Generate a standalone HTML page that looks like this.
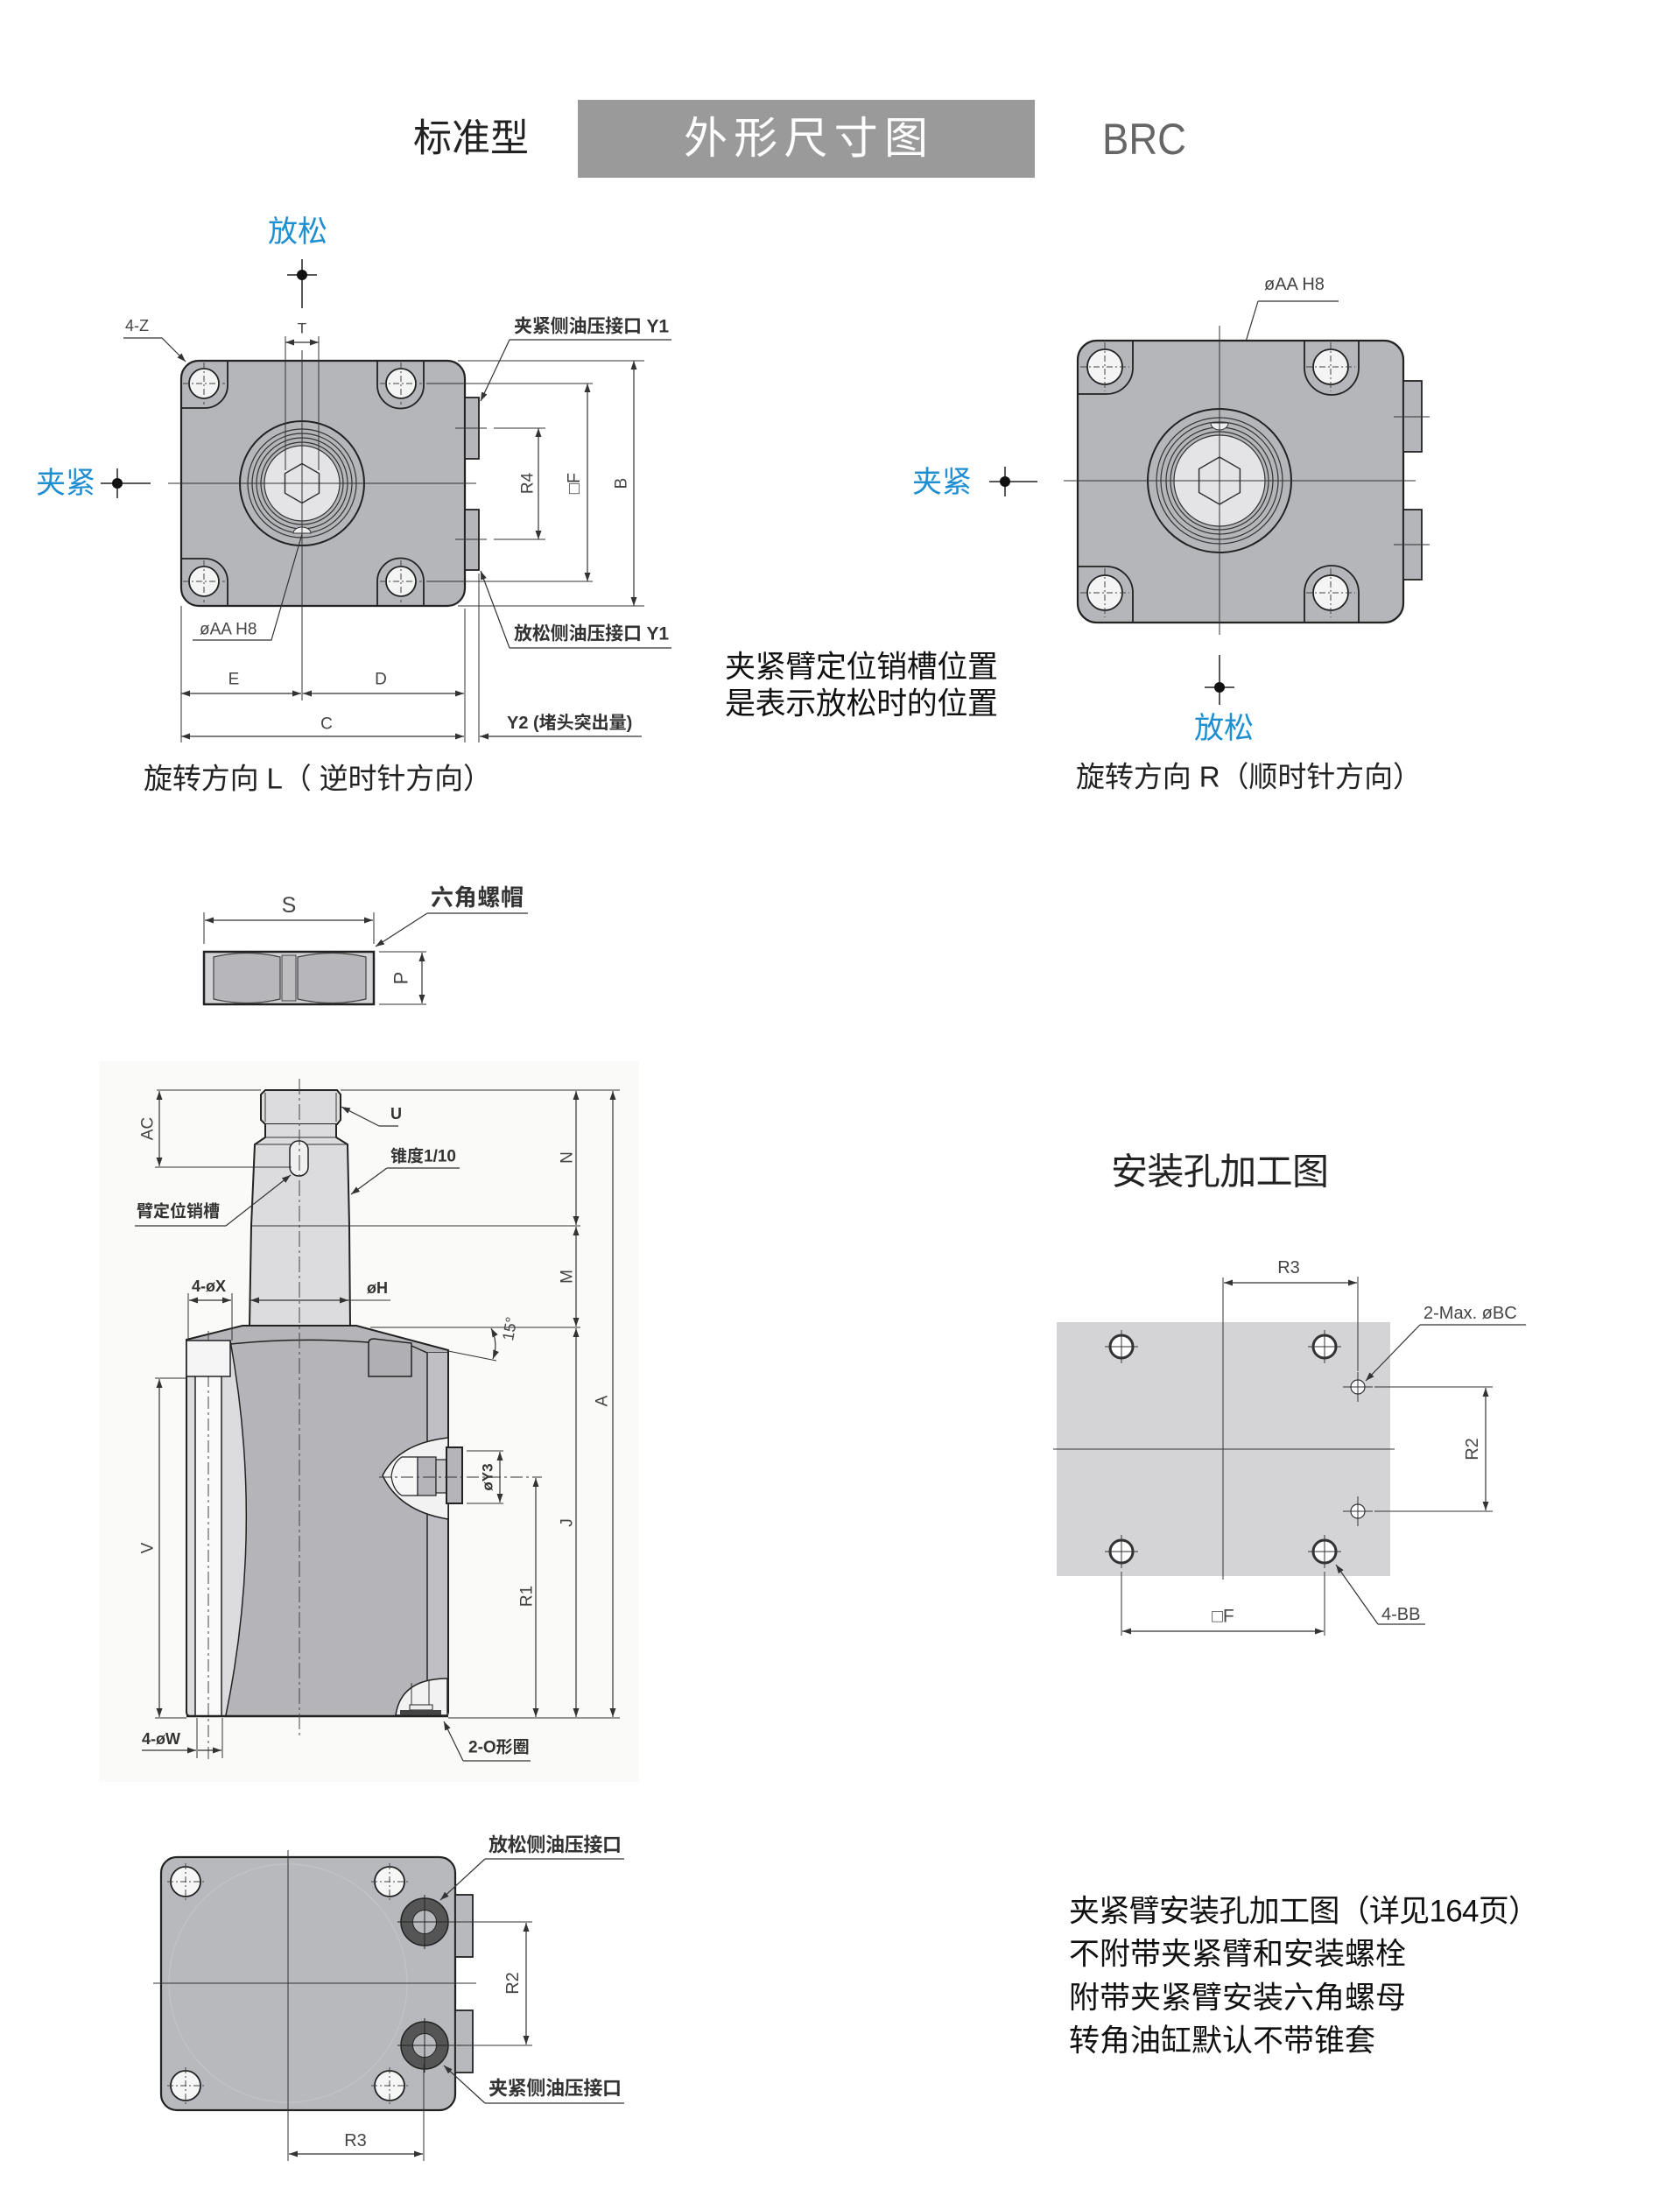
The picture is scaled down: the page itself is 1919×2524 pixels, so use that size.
<!DOCTYPE html>
<html><head><meta charset="utf-8">
<style>
html,body{margin:0;padding:0;background:#fff;}
svg{display:block;}
text{font-family:"Liberation Sans","Noto Sans CJK SC",sans-serif;dominant-baseline:central;}
.lb{font-weight:bold;fill:#333;}
.dm{fill:#444;}
.blue{fill:#1f8fd2;}
.d{stroke:#333;stroke-width:1.2;fill:none;}
.c{stroke:#333;stroke-width:1;fill:none;}
.o{stroke:#222;stroke-width:2.2;}
.dash{stroke:#444;stroke-width:1;stroke-dasharray:7 3 2 3;fill:none;}
</style></head>
<body>
<svg width="1919" height="2524" viewBox="0 0 1919 2524" xmlns="http://www.w3.org/2000/svg">
<defs>
<marker id="a" viewBox="0 0 10 7" refX="10" refY="3.5" markerUnits="userSpaceOnUse" markerWidth="10" markerHeight="7" orient="auto-start-reverse">
<path d="M0,0 L10,3.5 L0,7 z" fill="#333"/>
</marker>
</defs>
<rect x="0" y="0" width="1919" height="2524" fill="#fff"/>

<!-- HEADER -->
<text x="472" y="158" font-size="44" fill="#222" textLength="132">标准型</text>
<rect x="660" y="114" width="522" height="89" fill="#9a9a9a"/>
<text x="781" y="158" font-size="50" fill="#fff" textLength="279">外形尺寸图</text>
<text x="1259" y="159" font-size="50" fill="#666" textLength="96" lengthAdjust="spacingAndGlyphs">BRC</text>

<!-- ========== TOP-LEFT VIEW ========== -->
<text x="340" y="265" text-anchor="middle" class="blue" font-size="34">放松</text>
<line x1="345" y1="296" x2="345" y2="352" stroke="#222" stroke-width="1.5"/>
<line x1="328" y1="314" x2="362" y2="314" stroke="#222" stroke-width="1.5"/>
<circle cx="345" cy="314" r="6" fill="#111"/>

<text x="75" y="552" text-anchor="middle" class="blue" font-size="34">夹紧</text>
<line x1="115" y1="552" x2="172" y2="552" stroke="#222" stroke-width="1.5"/>
<line x1="134" y1="535" x2="134" y2="569" stroke="#222" stroke-width="1.5"/>
<circle cx="134" cy="552" r="6" fill="#111"/>

<text x="143" y="372" class="dm" font-size="18">4-Z</text>
<polyline points="141,386 185,386 212,413" class="d" marker-end="url(#a)"/>

<!-- body -->
<rect x="207" y="412" width="324" height="280" rx="20" fill="#b5b6ba" class="o"/>
<path d="M260 412 V440 A26 26 0 0 1 234 466 H207" fill="none" stroke="#222" stroke-width="1.8"/>
<path d="M431 412 V440 A26.5 26.5 0 0 0 484 440 V412" fill="none" stroke="#222" stroke-width="1.8"/>
<path d="M207 638 H234 A26 26 0 0 1 260 664 V692" fill="none" stroke="#222" stroke-width="1.8"/>
<path d="M431 692 V664 A26.5 26.5 0 0 1 484 664 V692" fill="none" stroke="#222" stroke-width="1.8"/>
<g fill="#f4f4f4" stroke="#222" stroke-width="1.8">
<circle cx="233" cy="438" r="17"/><circle cx="458" cy="438" r="17"/>
<circle cx="233" cy="664" r="17"/><circle cx="458" cy="664" r="17"/>
</g>
<g class="dash">
<line x1="209" y1="438" x2="257" y2="438"/><line x1="233" y1="414" x2="233" y2="462"/>
<line x1="434" y1="438" x2="482" y2="438"/><line x1="458" y1="414" x2="458" y2="462"/>
<line x1="209" y1="664" x2="257" y2="664"/><line x1="233" y1="640" x2="233" y2="688"/>
<line x1="434" y1="664" x2="482" y2="664"/><line x1="458" y1="640" x2="458" y2="688"/>
</g>
<!-- ports -->
<rect x="531" y="454" width="16" height="70" fill="#b5b6ba" stroke="#222" stroke-width="1.8"/>
<rect x="531" y="582" width="16" height="69" fill="#b5b6ba" stroke="#222" stroke-width="1.8"/>
<!-- central boss -->
<circle cx="345" cy="552" r="71" fill="#b5b6ba" stroke="#222" stroke-width="2"/>
<g fill="none" stroke="#333" stroke-width="1.2">
<circle cx="345" cy="552" r="62"/><circle cx="345" cy="552" r="57"/><circle cx="345" cy="552" r="52"/><circle cx="345" cy="552" r="47"/>
</g>
<circle cx="345" cy="552" r="43" fill="#e4e4e6" stroke="#333" stroke-width="1.2"/>
<polygon points="345,529.5 364.5,540.75 364.5,563.25 345,574.5 325.5,563.25 325.5,540.75" fill="none" stroke="#333" stroke-width="1.5"/>
<path d="M335 609 A10 7 0 0 1 355 609 Z" fill="#eee" stroke="#333" stroke-width="1"/>
<!-- centre lines -->
<line x1="345" y1="400" x2="345" y2="800" class="c"/>
<line x1="192" y1="552" x2="544" y2="552" class="c"/>
<!-- T -->
<line x1="326" y1="384" x2="326" y2="537" class="c"/>
<line x1="364" y1="384" x2="364" y2="537" class="c"/>
<line x1="326" y1="391" x2="364" y2="391" class="d" marker-start="url(#a)" marker-end="url(#a)"/>
<text x="345" y="375" text-anchor="middle" class="dm" font-size="17">T</text>
<!-- port lines & R4 -->
<line x1="520" y1="489" x2="556" y2="489" class="c"/><line x1="564" y1="489" x2="623" y2="489" class="c"/>
<line x1="520" y1="616" x2="556" y2="616" class="c"/><line x1="564" y1="616" x2="623" y2="616" class="c"/>
<line x1="615" y1="489" x2="615" y2="616" class="d" marker-start="url(#a)" marker-end="url(#a)"/>
<text x="603" y="552" text-anchor="middle" class="dm" font-size="19" transform="rotate(-90 603 552)">R4</text>
<!-- □F -->
<line x1="487" y1="438" x2="677" y2="438" class="c"/><line x1="487" y1="664" x2="677" y2="664" class="c"/>
<line x1="671" y1="438" x2="671" y2="664" class="d" marker-start="url(#a)" marker-end="url(#a)"/>
<text x="656" y="552" text-anchor="middle" class="dm" font-size="20" transform="rotate(-90 656 552)">□F</text>
<!-- B -->
<line x1="523" y1="412" x2="736" y2="412" class="c"/><line x1="523" y1="692" x2="736" y2="692" class="c"/>
<line x1="724" y1="412" x2="724" y2="692" class="d" marker-start="url(#a)" marker-end="url(#a)"/>
<text x="710" y="552" text-anchor="middle" class="dm" font-size="19" transform="rotate(-90 710 552)">B</text>
<!-- Y1 labels -->
<text x="587" y="373" class="lb" font-size="21" textLength="177">夹紧侧油压接口 Y1</text>
<line x1="582" y1="388" x2="767" y2="388" class="d"/>
<line x1="582" y1="388" x2="549" y2="458" class="d" marker-end="url(#a)"/>
<text x="587" y="724" class="lb" font-size="21" textLength="177">放松侧油压接口 Y1</text>
<line x1="582" y1="740" x2="767" y2="740" class="d"/>
<line x1="582" y1="740" x2="549" y2="652" class="d" marker-end="url(#a)"/>
<!-- øAA H8 -->
<text x="228" y="719" class="dm" font-size="19">øAA H8</text>
<polyline points="220,731 310,731 345,610" class="d"/>
<!-- E D C Y2 -->
<line x1="207" y1="692" x2="207" y2="848" class="c"/>
<line x1="531" y1="695" x2="531" y2="848" class="c"/>
<line x1="547" y1="655" x2="547" y2="848" class="c"/>
<line x1="207" y1="792" x2="344" y2="792" class="d" marker-start="url(#a)" marker-end="url(#a)"/>
<line x1="346" y1="792" x2="530" y2="792" class="d" marker-start="url(#a)" marker-end="url(#a)"/>
<text x="267" y="776" text-anchor="middle" class="dm" font-size="19">E</text>
<text x="435" y="776" text-anchor="middle" class="dm" font-size="19">D</text>
<line x1="207" y1="841" x2="530" y2="841" class="d" marker-start="url(#a)" marker-end="url(#a)"/>
<text x="373" y="827" text-anchor="middle" class="dm" font-size="19">C</text>
<line x1="548" y1="841" x2="733" y2="841" class="d" marker-start="url(#a)"/>
<text x="579" y="826" class="lb" font-size="20">Y2 (堵头突出量)</text>
<text x="164" y="889" font-size="33" fill="#222" textLength="398">旋转方向 L（ 逆时针方向）</text>

<!-- middle note -->
<text x="828" y="762" font-size="35" fill="#111" textLength="312">夹紧臂定位销槽位置</text>
<text x="828" y="804" font-size="35" fill="#111" textLength="312">是表示放松时的位置</text>

<!-- ========== TOP-RIGHT VIEW ========== -->
<text x="1444" y="325" class="dm" font-size="20">øAA H8</text>
<line x1="1437" y1="344" x2="1529" y2="344" class="d"/>
<line x1="1437" y1="344" x2="1394" y2="486" class="d" marker-end="url(#a)"/>
<rect x="1231" y="389" width="372" height="322" rx="22" fill="#b5b6ba" class="o"/>
<path d="M1294 389 V420 A30 30 0 0 1 1264 450 H1231" fill="none" stroke="#222" stroke-width="1.8"/>
<path d="M1490 389 V420 A31 31 0 0 0 1552 420 V389" fill="none" stroke="#222" stroke-width="1.8"/>
<path d="M1231 647 H1264 A30 30 0 0 1 1294 677 V711" fill="none" stroke="#222" stroke-width="1.8"/>
<path d="M1490 711 V677 A31 31 0 0 1 1552 677 V711" fill="none" stroke="#222" stroke-width="1.8"/>
<g fill="#f4f4f4" stroke="#222" stroke-width="1.8">
<circle cx="1262" cy="419" r="20"/><circle cx="1520" cy="419" r="20"/>
<circle cx="1262" cy="677" r="20"/><circle cx="1520" cy="677" r="20"/>
</g>
<g class="dash">
<line x1="1234" y1="419" x2="1290" y2="419"/><line x1="1262" y1="391" x2="1262" y2="447"/>
<line x1="1492" y1="419" x2="1548" y2="419"/><line x1="1520" y1="391" x2="1520" y2="447"/>
<line x1="1234" y1="677" x2="1290" y2="677"/><line x1="1262" y1="649" x2="1262" y2="705"/>
<line x1="1492" y1="677" x2="1548" y2="677"/><line x1="1520" y1="649" x2="1520" y2="705"/>
</g>
<rect x="1603" y="435" width="21" height="81" fill="#b5b6ba" stroke="#222" stroke-width="1.8"/>
<rect x="1603" y="582" width="21" height="80" fill="#b5b6ba" stroke="#222" stroke-width="1.8"/>
<line x1="1592" y1="476" x2="1633" y2="476" class="c"/>
<line x1="1592" y1="622" x2="1633" y2="622" class="c"/>
<circle cx="1393" cy="549" r="82" fill="#b5b6ba" stroke="#222" stroke-width="2"/>
<g fill="none" stroke="#333" stroke-width="1.2">
<circle cx="1393" cy="549" r="72"/><circle cx="1393" cy="549" r="67"/><circle cx="1393" cy="549" r="61"/><circle cx="1393" cy="549" r="56"/>
</g>
<circle cx="1393" cy="549" r="52" fill="#e4e4e6" stroke="#333" stroke-width="1.2"/>
<polygon points="1393,522 1416.4,535.5 1416.4,562.5 1393,576 1369.6,562.5 1369.6,535.5" fill="none" stroke="#333" stroke-width="1.5"/>
<path d="M1383 483 A10 8 0 0 0 1403 483 Z" fill="#eee" stroke="#333" stroke-width="1"/>
<line x1="1393" y1="372" x2="1393" y2="725" class="c"/>
<line x1="1215" y1="549" x2="1617" y2="549" class="c"/>
<text x="1076" y="551" text-anchor="middle" class="blue" font-size="34">夹紧</text>
<line x1="1130" y1="550" x2="1185" y2="550" stroke="#222" stroke-width="1.5"/>
<line x1="1148" y1="533" x2="1148" y2="567" stroke="#222" stroke-width="1.5"/>
<circle cx="1148" cy="550" r="6" fill="#111"/>
<line x1="1393" y1="748" x2="1393" y2="805" stroke="#222" stroke-width="1.5"/>
<line x1="1376" y1="785" x2="1410" y2="785" stroke="#222" stroke-width="1.5"/>
<circle cx="1393" cy="785" r="6" fill="#111"/>
<text x="1398" y="832" text-anchor="middle" class="blue" font-size="34">放松</text>
<text x="1229" y="887" font-size="33" fill="#222" textLength="395">旋转方向 R（顺时针方向）</text>

<!-- ========== HEX NUT ========== -->
<text x="330" y="1034" text-anchor="middle" font-size="25" fill="#444">S</text>
<line x1="233" y1="1042" x2="233" y2="1078" class="c"/>
<line x1="427" y1="1042" x2="427" y2="1078" class="c"/>
<line x1="234" y1="1051" x2="426" y2="1051" class="d" marker-start="url(#a)" marker-end="url(#a)"/>
<text x="492" y="1025" class="lb" font-size="26" textLength="106">六角螺帽</text>
<line x1="488" y1="1043" x2="603" y2="1043" class="d"/>
<line x1="488" y1="1043" x2="429" y2="1081" class="d" marker-end="url(#a)"/>
<rect x="233" y="1087" width="194" height="60" fill="#d2d2d4" stroke="#222" stroke-width="2.5"/>
<path d="M244 1093 Q282 1084 320 1093 V1141 Q282 1150 244 1141 Z" fill="#b7b7bb" stroke="#444" stroke-width="1.2"/>
<path d="M340 1093 Q379 1084 418 1093 V1141 Q379 1150 340 1141 Z" fill="#b7b7bb" stroke="#444" stroke-width="1.2"/>
<rect x="322" y="1091" width="16" height="52" fill="#bdbdc0" stroke="#444" stroke-width="1"/>
<line x1="433" y1="1087" x2="487" y2="1087" class="c"/>
<line x1="433" y1="1147" x2="487" y2="1147" class="c"/>
<line x1="482" y1="1088" x2="482" y2="1146" class="d" marker-start="url(#a)" marker-end="url(#a)"/>
<text x="458" y="1117" text-anchor="middle" font-size="22" fill="#444" transform="rotate(-90 458 1117)">P</text>

<!-- ========== SIDE VIEW ========== -->
<rect x="113" y="1212" width="617" height="823" fill="#fafaf9"/>
<!-- shaft -->
<path d="M303 1245 H385 L389 1250 V1279 L385 1284 H303 L298 1279 V1250 Z" fill="#dcdcde" stroke="#222" stroke-width="2"/>
<line x1="303" y1="1248" x2="303" y2="1281" class="c"/><line x1="384" y1="1248" x2="384" y2="1281" class="c"/>
<path d="M303 1284 V1299 L291 1307 L287 1400 L285 1515 H400 L399 1400 L397 1307 L384 1299 V1284" fill="#dcdcde" stroke="#222" stroke-width="2"/>
<line x1="303" y1="1299" x2="384" y2="1299" class="c"/>
<line x1="291" y1="1307" x2="397" y2="1307" class="c"/>
<rect x="331" y="1303" width="21" height="40" rx="10" fill="#f0f0f0" stroke="#222" stroke-width="1.5"/>
<!-- body -->
<path d="M213 1530 L277 1514 H407 L512 1542 V1955 Q512 1960 507 1960 H218 Q213 1960 213 1955 Z" fill="#b5b5b9" stroke="#222" stroke-width="2"/>
<path d="M214 1531 L263 1531 Q302 1745 258 1959 H218 Q214 1959 214 1955 Z" fill="#dcdcde"/>
<rect x="223" y="1572" width="30" height="387" fill="#fafafa"/>
<line x1="223" y1="1572" x2="223" y2="1959" stroke="#222" stroke-width="1.5"/>
<line x1="253" y1="1572" x2="253" y2="1959" stroke="#222" stroke-width="1.5"/>
<path d="M263 1531 Q302 1745 258 1959" fill="none" stroke="#222" stroke-width="1.5"/>
<line x1="238" y1="1520" x2="238" y2="2010" stroke="#444" stroke-width="1" stroke-dasharray="14 4 3 4"/>
<path d="M213 1531 L263 1531 V1572 H213 Z" fill="#f5f5f5" stroke="#222" stroke-width="1.5"/>
<path d="M263 1535 Q343 1527 421 1533" fill="none" stroke="#222" stroke-width="1.5"/>
<path d="M470 1537 L488 1545 H512" fill="none" stroke="#222" stroke-width="1.5"/>
<path d="M421 1572 V1534 Q421 1529 427 1529 L470 1534 V1572 Z" fill="#b0b0b4" stroke="#222" stroke-width="1.5"/>
<rect x="488" y="1545" width="24" height="414" fill="#c0c0c4"/>
<line x1="488" y1="1545" x2="488" y2="1959" stroke="#222" stroke-width="1.5"/>
<line x1="512" y1="1542" x2="512" y2="1956" stroke="#222" stroke-width="2"/>
<!-- port cutaway -->
<path d="M512 1642 Q456 1648 437 1685 Q456 1726 512 1735 Z" fill="#f2f2f2" stroke="#222" stroke-width="1.5"/>
<path d="M477 1664 H459 Q449 1670 447 1686 Q449 1702 459 1708 H477 Z" fill="#f7f7f7" stroke="#222" stroke-width="1.2"/>
<rect x="477" y="1664" width="21" height="44" fill="#b5b5b9" stroke="#222" stroke-width="1.2"/>
<rect x="498" y="1667" width="12" height="38" fill="#c6c6c9" stroke="#222" stroke-width="1.2"/>
<rect x="510" y="1653" width="18" height="64" fill="#b5b5b9" stroke="#222" stroke-width="2"/>
<line x1="433" y1="1687" x2="619" y2="1687" class="c" stroke-dasharray="14 4 3 4"/>
<!-- O-ring cutaway -->
<path d="M452 1959 Q458 1917 511 1917 V1959 Z" fill="#f2f2f2" stroke="#222" stroke-width="1.5"/>
<line x1="470" y1="1922" x2="470" y2="1947" class="c"/><line x1="490" y1="1919" x2="490" y2="1947" class="c"/>
<rect x="468" y="1947" width="26" height="6" fill="#eee" stroke="#222" stroke-width="1"/>
<rect x="457" y="1953" width="47" height="6" fill="#444"/>
<line x1="213" y1="1960" x2="512" y2="1960" stroke="#222" stroke-width="2.5"/>
<!-- centre line -->
<line x1="342" y1="1232" x2="342" y2="1984" stroke="#444" stroke-width="1" stroke-dasharray="18 4 3 4"/>
<!-- dims side -->
<line x1="179" y1="1245" x2="298" y2="1245" class="c"/><line x1="389" y1="1245" x2="708" y2="1245" class="c"/>
<line x1="182" y1="1246" x2="182" y2="1332" class="d" marker-start="url(#a)" marker-end="url(#a)"/>
<text x="169" y="1289" text-anchor="middle" class="dm" font-size="19" transform="rotate(-90 169 1289)">AC</text>
<line x1="177" y1="1333" x2="333" y2="1333" class="c"/>
<text x="446" y="1272" class="lb" font-size="18">U</text>
<line x1="433" y1="1286" x2="455" y2="1286" class="d"/>
<line x1="433" y1="1286" x2="390" y2="1264" class="d" marker-end="url(#a)"/>
<text x="446" y="1321" class="lb" font-size="19">锥度1/10</text>
<line x1="442" y1="1334" x2="525" y2="1334" class="d"/>
<line x1="442" y1="1334" x2="401" y2="1364" class="d" marker-end="url(#a)"/>
<text x="156" y="1384" class="lb" font-size="19">臂定位销槽</text>
<line x1="154" y1="1400" x2="258" y2="1400" class="d"/>
<line x1="258" y1="1400" x2="332" y2="1342" class="d" marker-end="url(#a)"/>
<line x1="288" y1="1400" x2="663" y2="1400" class="c"/>
<line x1="658" y1="1246" x2="658" y2="1399" class="d" marker-start="url(#a)" marker-end="url(#a)"/>
<text x="648" y="1322" text-anchor="middle" class="dm" font-size="19" transform="rotate(-90 648 1322)">N</text>
<line x1="658" y1="1401" x2="658" y2="1515" class="d" marker-start="url(#a)" marker-end="url(#a)"/>
<text x="648" y="1458" text-anchor="middle" class="dm" font-size="19" transform="rotate(-90 648 1458)">M</text>
<line x1="423" y1="1516" x2="663" y2="1516" class="c"/>
<line x1="658" y1="1517" x2="658" y2="1961" class="d" marker-start="url(#a)" marker-end="url(#a)"/>
<text x="648" y="1739" text-anchor="middle" class="dm" font-size="19" transform="rotate(-90 648 1739)">J</text>
<line x1="700" y1="1246" x2="700" y2="1961" class="d" marker-start="url(#a)" marker-end="url(#a)"/>
<text x="688" y="1600" text-anchor="middle" class="dm" font-size="19" transform="rotate(-90 688 1600)">A</text>
<line x1="612" y1="1688" x2="612" y2="1961" class="d" marker-start="url(#a)" marker-end="url(#a)"/>
<text x="602" y="1823" text-anchor="middle" class="dm" font-size="19" transform="rotate(-90 602 1823)">R1</text>
<line x1="533" y1="1657" x2="575" y2="1657" class="c"/><line x1="533" y1="1717" x2="575" y2="1717" class="c"/>
<line x1="571" y1="1658" x2="571" y2="1716" class="d" marker-start="url(#a)" marker-end="url(#a)"/>
<text x="557" y="1687" text-anchor="middle" class="lb" font-size="17" transform="rotate(-90 557 1687)">øY3</text>
<line x1="286" y1="1485" x2="398" y2="1485" class="d" marker-start="url(#a)" marker-end="url(#a)"/>
<line x1="398" y1="1485" x2="446" y2="1485" class="c"/>
<text x="419" y="1471" class="lb" font-size="18">øH</text>
<text x="219" y="1469" class="lb" font-size="18">4-øX</text>
<line x1="215" y1="1477" x2="215" y2="1531" class="c"/><line x1="265" y1="1477" x2="265" y2="1531" class="c"/>
<line x1="216" y1="1485" x2="264" y2="1485" class="d" marker-start="url(#a)" marker-end="url(#a)"/>
<line x1="512" y1="1543" x2="567" y2="1554" class="c"/>
<path d="M561 1517 A42 42 0 0 1 563 1552" class="d" marker-start="url(#a)" marker-end="url(#a)"/>
<text x="580" y="1531" font-size="18" fill="#444" transform="rotate(-80 580 1531)">15°</text>
<line x1="177" y1="1574" x2="213" y2="1574" class="c"/>
<line x1="182" y1="1575" x2="182" y2="1961" class="d" marker-start="url(#a)" marker-end="url(#a)"/>
<text x="169" y="1768" text-anchor="middle" class="dm" font-size="19" transform="rotate(-90 169 1768)">V</text>
<line x1="177" y1="1962" x2="213" y2="1962" class="c"/><line x1="512" y1="1962" x2="708" y2="1962" class="c"/>
<text x="162" y="1986" class="lb" font-size="18">4-øW</text>
<line x1="225" y1="1962" x2="225" y2="2008" class="c"/><line x1="254" y1="1962" x2="254" y2="2008" class="c"/>
<line x1="162" y1="1999" x2="224" y2="1999" class="d" marker-end="url(#a)"/>
<line x1="226" y1="1999" x2="253" y2="1999" class="d" marker-end="url(#a)"/>
<text x="535" y="1996" class="lb" font-size="19">2-O形圈</text>
<line x1="529" y1="2011" x2="606" y2="2011" class="d"/>
<line x1="529" y1="2011" x2="507" y2="1966" class="d" marker-end="url(#a)"/>

<!-- ========== MOUNTING HOLE DRAWING ========== -->
<text x="1269" y="1338" font-size="42" fill="#222" textLength="249">安装孔加工图</text>
<rect x="1207" y="1510" width="381" height="290" fill="#d4d4d6"/>
<line x1="1397" y1="1459" x2="1397" y2="1804" class="c"/>
<line x1="1203" y1="1655" x2="1593" y2="1655" class="c"/>
<g fill="#fff" stroke="#333" stroke-width="3">
<circle cx="1281" cy="1538" r="13"/><circle cx="1513" cy="1538" r="13"/>
<circle cx="1281" cy="1772" r="13"/><circle cx="1513" cy="1772" r="13"/>
</g>
<g stroke="#333" stroke-width="1">
<line x1="1262" y1="1538" x2="1300" y2="1538"/><line x1="1281" y1="1519" x2="1281" y2="1557"/>
<line x1="1494" y1="1538" x2="1532" y2="1538"/><line x1="1513" y1="1519" x2="1513" y2="1557"/>
<line x1="1262" y1="1772" x2="1300" y2="1772"/><line x1="1281" y1="1753" x2="1281" y2="1791"/>
<line x1="1494" y1="1772" x2="1532" y2="1772"/><line x1="1513" y1="1753" x2="1513" y2="1791"/>
</g>
<g fill="#fff" stroke="#333" stroke-width="1.2">
<circle cx="1551" cy="1584" r="8"/><circle cx="1551" cy="1726" r="8"/>
</g>
<g stroke="#333" stroke-width="1">
<line x1="1534" y1="1584" x2="1568" y2="1584"/><line x1="1551" y1="1567" x2="1551" y2="1601"/>
<line x1="1534" y1="1726" x2="1568" y2="1726"/><line x1="1551" y1="1709" x2="1551" y2="1743"/>
</g>
<line x1="1551" y1="1458" x2="1551" y2="1566" class="c"/>
<line x1="1398" y1="1465" x2="1550" y2="1465" class="d" marker-start="url(#a)" marker-end="url(#a)"/>
<text x="1472" y="1448" text-anchor="middle" class="dm" font-size="20">R3</text>
<text x="1626" y="1500" class="dm" font-size="20">2-Max. øBC</text>
<line x1="1622" y1="1513" x2="1743" y2="1513" class="d"/>
<line x1="1622" y1="1513" x2="1560" y2="1577" class="d" marker-end="url(#a)"/>
<line x1="1570" y1="1584" x2="1705" y2="1584" class="c"/><line x1="1570" y1="1726" x2="1705" y2="1726" class="c"/>
<line x1="1697" y1="1585" x2="1697" y2="1725" class="d" marker-start="url(#a)" marker-end="url(#a)"/>
<text x="1682" y="1655" text-anchor="middle" class="dm" font-size="20" transform="rotate(-90 1682 1655)">R2</text>
<line x1="1281" y1="1795" x2="1281" y2="1868" class="c"/><line x1="1513" y1="1795" x2="1513" y2="1868" class="c"/>
<line x1="1282" y1="1863" x2="1512" y2="1863" class="d" marker-start="url(#a)" marker-end="url(#a)"/>
<text x="1397" y="1846" text-anchor="middle" class="dm" font-size="21">□F</text>
<text x="1578" y="1844" class="dm" font-size="20">4-BB</text>
<line x1="1574" y1="1855" x2="1628" y2="1855" class="d"/>
<line x1="1574" y1="1855" x2="1526" y2="1787" class="d" marker-end="url(#a)"/>

<!-- ========== BOTTOM VIEW ========== -->
<rect x="184" y="2121" width="336" height="289" rx="18" fill="#b8b9bd" class="o"/>
<circle cx="329" cy="2265" r="136" fill="none" stroke="#c4c4c8" stroke-width="1.2"/>
<line x1="329" y1="2113" x2="329" y2="2468" class="c"/>
<line x1="175" y1="2265" x2="544" y2="2265" class="c"/>
<g fill="#f6f6f6" stroke="#222" stroke-width="1.8">
<circle cx="212" cy="2149" r="17"/><circle cx="445" cy="2149" r="17"/>
<circle cx="212" cy="2382" r="17"/><circle cx="445" cy="2382" r="17"/>
</g>
<g class="dash">
<line x1="191" y1="2149" x2="233" y2="2149"/><line x1="212" y1="2128" x2="212" y2="2170"/>
<line x1="424" y1="2149" x2="466" y2="2149"/><line x1="445" y1="2128" x2="445" y2="2170"/>
<line x1="191" y1="2382" x2="233" y2="2382"/><line x1="212" y1="2361" x2="212" y2="2403"/>
<line x1="424" y1="2382" x2="466" y2="2382"/><line x1="445" y1="2361" x2="445" y2="2403"/>
</g>
<rect x="520" y="2164" width="20" height="71" fill="#b8b9bd" stroke="#222" stroke-width="1.8"/>
<rect x="520" y="2296" width="20" height="71" fill="#b8b9bd" stroke="#222" stroke-width="1.8"/>
<circle cx="485" cy="2195" r="27" fill="#555" stroke="#222" stroke-width="1.5"/>
<circle cx="485" cy="2195" r="13.5" fill="#b8b9bd" stroke="#222" stroke-width="1"/>
<circle cx="485" cy="2336" r="27" fill="#555" stroke="#222" stroke-width="1.5"/>
<circle cx="485" cy="2336" r="13.5" fill="#b8b9bd" stroke="#222" stroke-width="1"/>
<g stroke="#222" stroke-width="1">
<line x1="454" y1="2195" x2="516" y2="2195"/><line x1="485" y1="2164" x2="485" y2="2226"/>
<line x1="454" y1="2336" x2="516" y2="2336"/><line x1="485" y1="2305" x2="485" y2="2367"/>
</g>
<line x1="511" y1="2195" x2="608" y2="2195" class="c"/><line x1="511" y1="2336" x2="608" y2="2336" class="c"/>
<line x1="601" y1="2196" x2="601" y2="2335" class="d" marker-start="url(#a)" marker-end="url(#a)"/>
<text x="586" y="2265" text-anchor="middle" class="dm" font-size="20" transform="rotate(-90 586 2265)">R2</text>
<line x1="484" y1="2357" x2="484" y2="2468" class="c"/>
<line x1="330" y1="2460" x2="483" y2="2460" class="d" marker-start="url(#a)" marker-end="url(#a)"/>
<text x="406" y="2445" text-anchor="middle" class="dm" font-size="20">R3</text>
<text x="558" y="2107" class="lb" font-size="22" textLength="152">放松侧油压接口</text>
<line x1="554" y1="2123" x2="713" y2="2123" class="d"/>
<line x1="554" y1="2123" x2="503" y2="2170" class="d" marker-end="url(#a)"/>
<text x="558" y="2385" class="lb" font-size="22" textLength="152">夹紧侧油压接口</text>
<line x1="554" y1="2402" x2="713" y2="2402" class="d"/>
<line x1="554" y1="2402" x2="507" y2="2359" class="d" marker-end="url(#a)"/>

<!-- ========== BOTTOM NOTES ========== -->
<text x="1221" y="2183" font-size="35" fill="#111" textLength="537">夹紧臂安装孔加工图（详见164页）</text>
<text x="1221" y="2232" font-size="35" fill="#111" textLength="385">不附带夹紧臂和安装螺栓</text>
<text x="1221" y="2282" font-size="35" fill="#111" textLength="385">附带夹紧臂安装六角螺母</text>
<text x="1221" y="2331" font-size="35" fill="#111" textLength="350">转角油缸默认不带锥套</text>
</svg>
</body></html>
